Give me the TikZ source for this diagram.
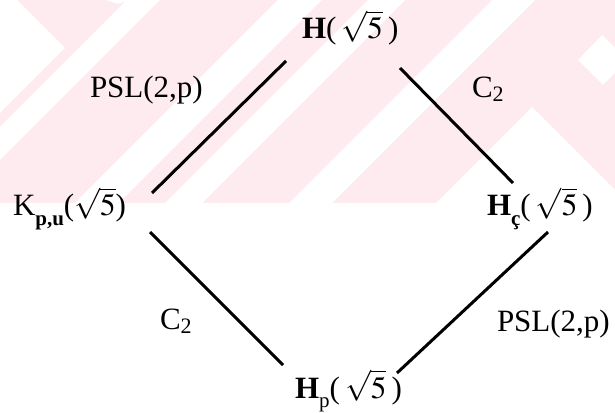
\documentclass[tikz,border=0pt]{standalone}
\usepackage{mathptmx}
\usepackage[no-math]{fontspec}
\setmainfont{Liberation Serif}
\usetikzlibrary{calc}
\definecolor{wmpink}{RGB}{253,235,239}
\tikzset{
  lbl/.style={anchor=base west, inner sep=0pt, outer sep=0pt, font=\fontsize{31}{36}\selectfont},
  edge/.style={line width=3pt, black},
  wm/.style={fill=white}
}
\newcommand{\rootfive}{$\sqrt{5}$}
\newcommand{\sub}[1]{\raisebox{-0.3em}{\fontsize{21}{24}\selectfont #1}}
\newcommand{\subc}[1]{\raisebox{-0.12em}{\fontsize{22}{24}\selectfont #1}}
\begin{document}
\begin{tikzpicture}[x=1pt,y=1pt]
\useasboundingbox (0,0) rectangle (615,412);
\fill[white] (0,0) rectangle (615,412);
% watermark background (pixel coordinates, y downward)
\begin{scope}[shift={(0,412)}, yscale=-1]
  \clip (0,0) rectangle (615,203);
  \fill[wmpink] (0,0) rectangle (615,203);
  \fill[wm] (0,0) -- (17,0) -- (65,48) -- (0,113) -- cycle;
  \fill[wm] (106,0) -- (118,4) -- (130,0) -- cycle;
  \fill[wm] (127,0) -- (160,0) -- (-43,203) -- (-76,203) -- cycle;
  \fill[wm] (278,0) -- (322,0) -- (119,203) -- (75,203) -- cycle;
  \fill[wm] (368,0) -- (405,0) -- (202,203) -- (165,203) -- cycle;
  \fill[wm] (492,0) -- (535,0) -- (332,203) -- (289,203) -- cycle;
  \fill[wm] (532,107) -- (628,203) -- (436,203) -- cycle;
  \fill[wm] (602,35) -- (627,60) -- (603,85) -- (578,60) -- cycle;
\end{scope}
% nodes
\node[lbl] (Ht) at (302,373) {\textbf{H}(\,\rootfive\,)};
\node[lbl] (K)  at (13,196) {K\sub{\bfseries p,u}(\rootfive)};
\node[lbl] (Hc) at (487,196) {\textbf{H}\sub{\bfseries ç}(\,\rootfive\,)};
\node[lbl] (Hp) at (295,14) {\textbf{H}\sub{p}(\,\rootfive\,)};
\node[lbl] (l1) at (90,314) {PSL(2,p)};
\node[lbl] (l2) at (472,314) {C\subc{2}};
\node[lbl] (l3) at (160,82) {C\subc{2}};
\node[lbl] (l4) at (497,80) {PSL(2,p)};
% connectors
\draw[edge] ($(K.base west)+(139,23)$) -- ($(Ht.base west)+(-16,-22)$);
\draw[edge] ($(Ht.base west)+(98,-29)$) -- ($(Hc.base west)+(26,33)$);
\draw[edge] ($(K.base west)+(137,-16)$) -- ($(Hp.base west)+(-12,33)$);
\draw[edge] ($(Hp.base west)+(102,25)$) -- ($(Hc.base west)+(61,-16)$);
\end{tikzpicture}
\end{document}
